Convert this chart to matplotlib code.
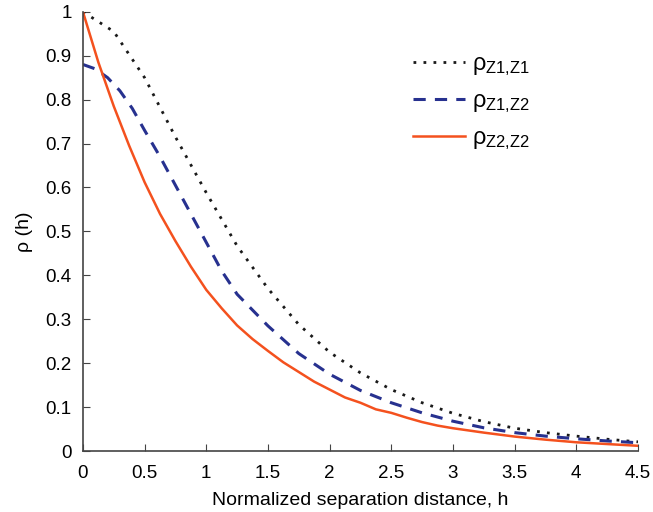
import matplotlib
matplotlib.use("Agg")
import matplotlib.pyplot as plt

plt.rcParams["font.family"] = ["Liberation Sans", "DejaVu Sans"]
plt.rcParams["mathtext.fontset"] = "custom"
plt.rcParams["mathtext.rm"] = "Liberation Sans"
plt.rcParams["mathtext.it"] = "Liberation Sans:italic"

# rho_Z1,Z1 (dotted black)
h_11 = [0, 0.25, 0.5, 0.75, 1.0, 1.25, 1.5, 1.75, 2.0, 2.25, 2.5, 2.75,
        3.0, 3.25, 3.5, 3.75, 4.0, 4.25, 4.5]
rho_11 = [1.0, 0.955, 0.85, 0.715, 0.588, 0.467, 0.37, 0.288, 0.225, 0.178,
          0.14, 0.11, 0.086, 0.067, 0.052, 0.042, 0.034, 0.027, 0.021]

# rho_Z1,Z2 (dashed blue)
h_12 = [0, 0.1, 0.2, 0.3, 0.4, 0.5, 0.625, 0.75, 0.875, 1.0, 1.125, 1.25,
        1.5, 1.75, 2.0, 2.25, 2.5, 2.75, 3.0, 3.25, 3.5, 3.75, 4.0, 4.25, 4.5]
rho_12 = [0.88, 0.87, 0.85, 0.82, 0.78, 0.73, 0.67, 0.605, 0.54, 0.475, 0.41,
          0.357, 0.285, 0.222, 0.175, 0.138, 0.11, 0.087, 0.068, 0.053, 0.042,
          0.034, 0.028, 0.023, 0.019]

# rho_Z2,Z2 (solid red)
h_22 = [0, 0.125, 0.25, 0.375, 0.5, 0.625, 0.75, 0.875, 1.0, 1.125, 1.25,
        1.375, 1.5, 1.625, 1.75, 1.875, 2.0, 2.125, 2.25, 2.375, 2.5, 2.625,
        2.75, 2.875, 3.0, 3.25, 3.5, 3.75, 4.0, 4.25, 4.5]
rho_22 = [1.0, 0.885, 0.785, 0.695, 0.612, 0.54, 0.478, 0.42, 0.367, 0.325,
          0.286, 0.255, 0.228, 0.202, 0.18, 0.158, 0.14, 0.122, 0.11, 0.095,
          0.087, 0.076, 0.066, 0.058, 0.052, 0.042, 0.033, 0.026, 0.02, 0.016,
          0.012]

xticks = [0, 0.5, 1, 1.5, 2, 2.5, 3, 3.5, 4, 4.5]
xticklabels = ["0", "0.5", "1", "1.5", "2", "2.5", "3", "3.5", "4", "4.5"]
yticks = [0, 0.1, 0.2, 0.3, 0.4, 0.5, 0.6, 0.7, 0.8, 0.9, 1]
yticklabels = ["0", "0.1", "0.2", "0.3", "0.4", "0.5", "0.6", "0.7", "0.8", "0.9", "1"]

fig = plt.figure(figsize=(6.53, 5.12), dpi=100)
ax = fig.add_axes([0.127, 0.119, 0.85, 0.858])

ax.plot(h_11, rho_11, color="#1a1a1a", linestyle=(0, (1, 2.6)), linewidth=2.0,
        label=r"ρ$_{\rm Z1{,}Z1}$")
ax.plot(h_12, rho_12, color="#27318f", linestyle=(0, (4, 3)), linewidth=2.2,
        label=r"ρ$_{\rm Z1{,}Z2}$")
ax.plot(h_22, rho_22, color="#f4511e", linewidth=1.8, label=r"ρ$_{\rm Z2{,}Z2}$")

ax.set_xlim(0, 4.5)
ax.set_ylim(0, 1)
ax.set_xticks(xticks)
ax.set_xticklabels(xticklabels)
ax.set_yticks(yticks)
ax.set_yticklabels(yticklabels)
ax.tick_params(direction="in", length=5, labelsize=13.5, color="#444444")
ax.tick_params(axis="y", pad=8)
ax.tick_params(axis="x", pad=10)
for s in ["top", "right"]:
    ax.spines[s].set_visible(False)
for s in ["left", "bottom"]:
    ax.spines[s].set_color("#444444")
    ax.spines[s].set_linewidth(1.2)

ax.set_xlabel("Normalized separation distance, h", fontsize=14, labelpad=7)
ax.set_ylabel("ρ (h)", fontsize=14, labelpad=9)

ax.legend(loc="upper left", bbox_to_anchor=(0.556, 0.955), frameon=False,
          fontsize=17, handlelength=2.2, labelspacing=0.52, handletextpad=0.3)

fig.savefig("out.png", dpi=100)
